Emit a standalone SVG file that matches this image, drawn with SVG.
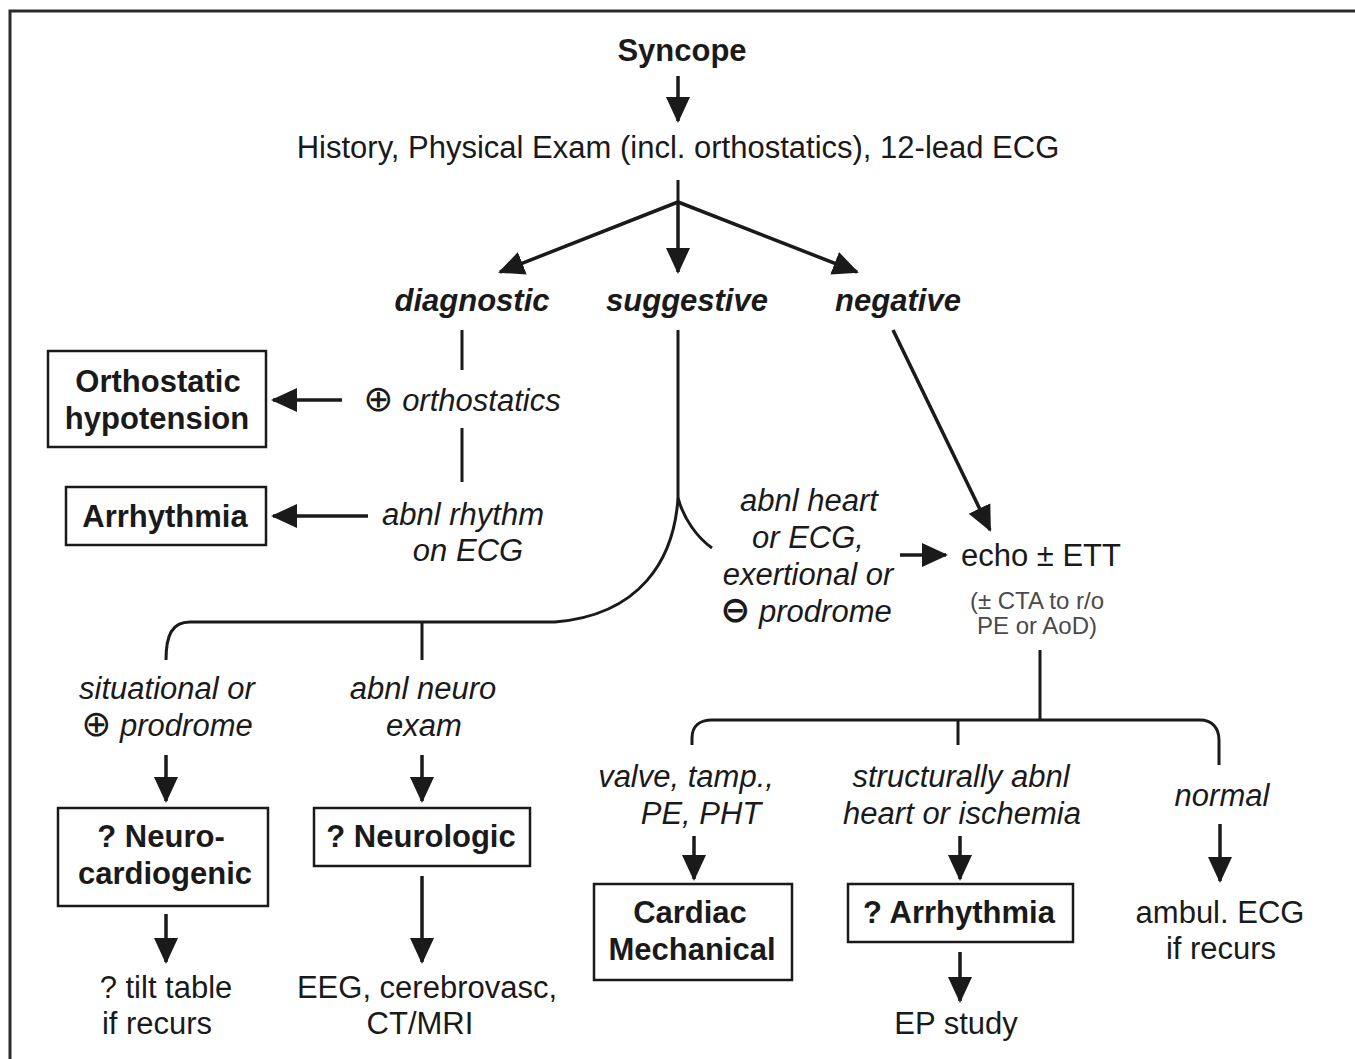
<svg xmlns="http://www.w3.org/2000/svg" width="1355" height="1059" viewBox="0 0 1355 1059">
<defs>
<style>
text{font-family:"Liberation Sans",Arial,sans-serif;fill:#1a1a1a;text-anchor:middle}
.t{font-size:31px}
.b{font-size:31px;font-weight:bold}
.i{font-size:31px;font-style:italic}
.bi{font-size:31px;font-weight:bold;font-style:italic}
.s{font-size:24px;fill:#4a4a4a}
.u{font-style:normal;font-family:"DejaVu Sans",sans-serif;font-size:36px}
.box{fill:#fff;stroke:#1a1a1a;stroke-width:2.5}
.ln{fill:none;stroke:#1a1a1a;stroke-width:3}
.ar{fill:none;stroke:#1a1a1a;stroke-width:3.5;marker-end:url(#ah)}
</style>
<marker id="ah" markerUnits="userSpaceOnUse" markerWidth="26" markerHeight="26" viewBox="0 0 26 26" refX="24" refY="13" orient="auto">
<path d="M0,1 L26,13 L0,25 Z" fill="#1a1a1a"/>
</marker>
</defs>
<rect width="1355" height="1059" fill="#fff"/>
<path d="M10,1059 V11 H1356" fill="none" stroke="#2a2a2a" stroke-width="3"/>

<g id="connectors">
<line class="ar" x1="678" y1="76" x2="678" y2="121"/>
<line class="ln" x1="678" y1="180" x2="678" y2="202"/>
<line class="ar" x1="678" y1="202" x2="500" y2="272"/>
<line class="ar" x1="678" y1="202" x2="678" y2="272"/>
<line class="ar" x1="678" y1="202" x2="857" y2="272"/>
<line class="ln" x1="462" y1="330" x2="462" y2="370"/>
<line class="ln" x1="462" y1="428" x2="462" y2="482"/>
<line class="ar" x1="342" y1="400" x2="273" y2="400"/>
<line class="ar" x1="368" y1="516" x2="273" y2="516"/>
<path class="ln" d="M678,330 V498 C674,560 640,615 555,622 H190 C172,622 166,635 166,660"/>
<path class="ln" d="M678,498 C684,520 698,538 712,548"/>
<line class="ln" x1="422" y1="622" x2="422" y2="660"/>
<line class="ar" x1="893" y1="330" x2="990" y2="530"/>
<line class="ar" x1="900" y1="555" x2="946" y2="555"/>
<line class="ln" x1="1040" y1="650" x2="1040" y2="720"/>
<path class="ln" d="M692,745 V738 C692,726 700,720 712,720 H1200 C1212,720 1219,728 1219,740 V765"/>
<line class="ln" x1="958" y1="720" x2="958" y2="745"/>
<line class="ar" x1="166" y1="755" x2="166" y2="801"/>
<line class="ar" x1="422" y1="755" x2="422" y2="801"/>
<line class="ar" x1="166" y1="914" x2="166" y2="962"/>
<line class="ar" x1="422" y1="876" x2="422" y2="962"/>
<line class="ar" x1="694" y1="836" x2="694" y2="879"/>
<line class="ar" x1="960" y1="836" x2="960" y2="879"/>
<line class="ar" x1="1220" y1="824" x2="1220" y2="881"/>
<line class="ar" x1="960" y1="952" x2="960" y2="1001"/>
</g>

<g id="syncope"><text class="b" x="682" y="61">Syncope</text></g>
<g id="history"><text class="t" x="678" y="158">History, Physical Exam (incl. orthostatics), 12-lead ECG</text></g>
<g id="diagnostic"><text class="bi" x="472" y="311">diagnostic</text></g>
<g id="suggestive"><text class="bi" x="687" y="311">suggestive</text></g>
<g id="negative"><text class="bi" x="898" y="311">negative</text></g>

<g id="orthostatics"><text class="i" x="462" y="411"><tspan class="u">⊕</tspan> orthostatics</text></g>
<g id="orthostatic-hypotension">
<rect class="box" x="48" y="351" width="218" height="96"/>
<text class="b" x="158" y="392">Orthostatic</text>
<text class="b" x="157" y="429">hypotension</text>
</g>
<g id="abnl-rhythm"><text class="i" x="463" y="525">abnl rhythm</text><text class="i" x="468" y="561">on ECG</text></g>
<g id="arrhythmia">
<rect class="box" x="66" y="487" width="200" height="58"/>
<text class="b" x="165" y="527">Arrhythmia</text>
</g>

<g id="abnl-heart">
<text class="i" x="809" y="511">abnl heart</text>
<text class="i" x="808" y="548">or ECG,</text>
<text class="i" x="808" y="585">exertional or</text>
<text class="i" x="806" y="622"><tspan class="u" style="font-weight:bold">⊖</tspan> prodrome</text>
</g>
<g id="echo">
<text class="t" x="1041" y="566">echo ± ETT</text>
<text class="s" x="1037" y="609">(± CTA to r/o</text>
<text class="s" x="1037" y="634">PE or AoD)</text>
</g>

<g id="situational"><text class="i" x="167" y="699">situational or</text><text class="i" x="167" y="736"><tspan class="u">⊕</tspan> prodrome</text></g>
<g id="abnl-neuro"><text class="i" x="423" y="699">abnl neuro</text><text class="i" x="424" y="736">exam</text></g>
<g id="neurocardiogenic">
<rect class="box" x="58" y="808" width="210" height="98"/>
<text class="b" x="161" y="847">? Neuro-</text>
<text class="b" x="165" y="884">cardiogenic</text>
</g>
<g id="neurologic">
<rect class="box" x="314" y="808" width="216" height="58"/>
<text class="b" x="421" y="847">? Neurologic</text>
</g>
<g id="tilt"><text class="t" x="166" y="998">? tilt table</text><text class="t" x="157" y="1034">if recurs</text></g>
<g id="eeg"><text class="t" x="427" y="998">EEG, cerebrovasc,</text><text class="t" x="420" y="1034">CT/MRI</text></g>

<g id="valve"><text class="i" x="686" y="787">valve, tamp.,</text><text class="i" x="701" y="824">PE, PHT</text></g>
<g id="structural"><text class="i" x="961" y="787">structurally abnl</text><text class="i" x="962" y="824">heart or ischemia</text></g>
<g id="normal"><text class="i" x="1222" y="806">normal</text></g>
<g id="cardiac-mechanical">
<rect class="box" x="594" y="884" width="198" height="96"/>
<text class="b" x="690" y="923">Cardiac</text>
<text class="b" x="692" y="960">Mechanical</text>
</g>
<g id="q-arrhythmia">
<rect class="box" x="848" y="884" width="225" height="58"/>
<text class="b" x="959" y="923">? Arrhythmia</text>
</g>
<g id="ep"><text class="t" x="956" y="1034">EP study</text></g>
<g id="ambul"><text class="t" x="1220" y="923">ambul. ECG</text><text class="t" x="1221" y="959">if recurs</text></g>
</svg>
